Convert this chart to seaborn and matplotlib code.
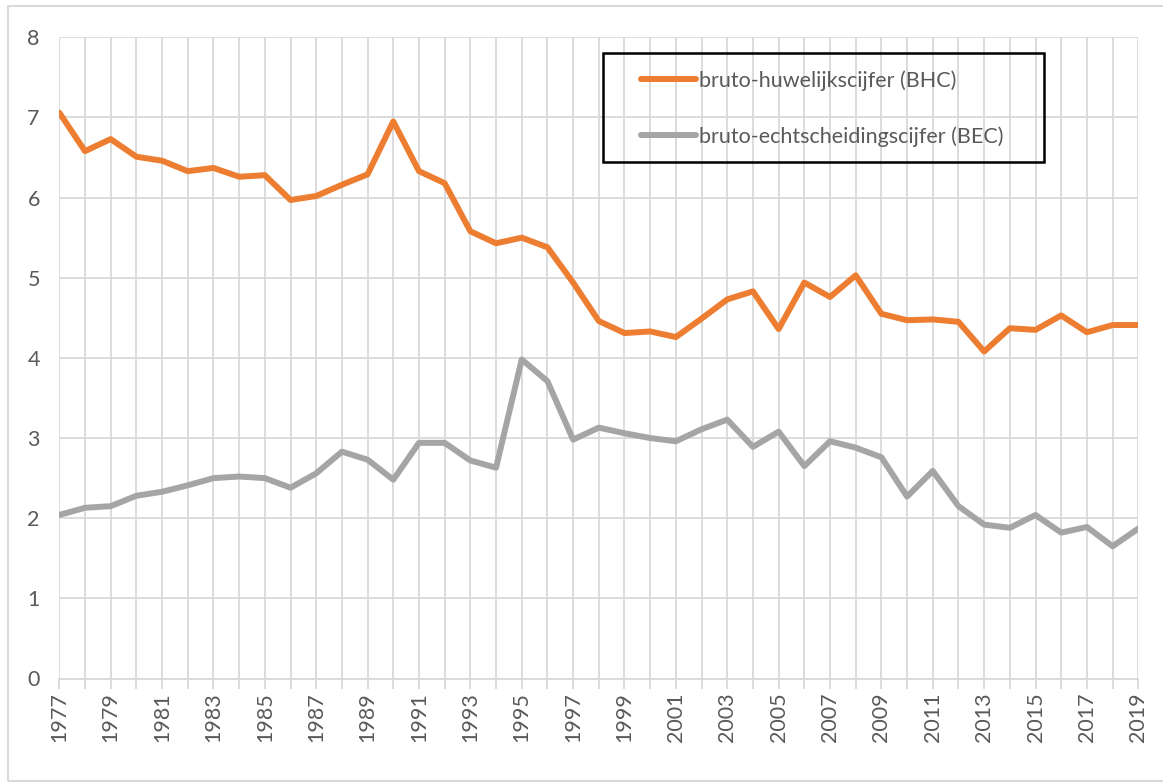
import numpy as np
import pandas as pd
import matplotlib
matplotlib.use("Agg")
import matplotlib.pyplot as plt
import seaborn as sns
from matplotlib.patches import Rectangle

years = list(range(1977, 2020))
bhc = [7.06, 6.58, 6.73, 6.51, 6.46, 6.33, 6.37, 6.26, 6.28, 5.97, 6.02, 6.16, 6.29, 6.95, 6.33,
       6.18, 5.58, 5.43, 5.50, 5.38, 4.94, 4.46, 4.31, 4.33, 4.26, 4.49, 4.73, 4.83,
       4.36, 4.94, 4.76, 5.03, 4.55, 4.47, 4.48, 4.45, 4.08, 4.37, 4.35, 4.53, 4.32, 4.41, 4.41]
bec = [2.04, 2.13, 2.15, 2.28, 2.33, 2.41, 2.50, 2.52, 2.50, 2.38, 2.56, 2.83, 2.73, 2.48, 2.94,
       2.94, 2.72, 2.63, 3.98, 3.71, 2.98, 3.13, 3.06, 3.00, 2.96, 3.11, 3.23, 2.89,
       3.08, 2.65, 2.96, 2.88, 2.76, 2.27, 2.59, 2.15, 1.92, 1.88, 2.04, 1.82, 1.89, 1.65, 1.87]
labels = ["bruto-huwelijkscijfer (BHC)", "bruto-echtscheidingscijfer (BEC)"]
colors = {labels[0]: "#ED7D31", labels[1]: "#A5A5A5"}

df = pd.DataFrame({
    "jaar": years * 2,
    "waarde": bhc + bec,
    "reeks": [labels[0]] * len(years) + [labels[1]] * len(years),
})

sns.set_theme(style="white")
plt.rcParams["font.family"] = ["Lato", "DejaVu Sans"]

W, H = 1163, 783
fig = plt.figure(figsize=(W / 100, H / 100), dpi=100)
ax = fig.add_axes([59.3 / W, 1 - 678.5 / H, (1138.3 - 59.3) / W, (678.5 - 37.3) / H])

grid_col = "#D9D9D9"
text_col = "#595959"

sns.lineplot(data=df, x="jaar", y="waarde", hue="reeks", palette=colors,
             linewidth=4.3, ax=ax, solid_joinstyle="round", solid_capstyle="round")

ax.set_xlim(1977, 2019)
ax.set_ylim(0, 8)
ax.set_xticks(years)
ax.set_xticklabels([str(y) if (y - 1977) % 2 == 0 else "" for y in years], rotation=90)
ax.set_yticks(range(0, 9))
ax.grid(True, color=grid_col, linewidth=1.3)
ax.set_axisbelow(True)
for s in ["top", "right", "left"]:
    ax.spines[s].set_visible(False)
ax.spines["bottom"].set_color(grid_col)
ax.spines["bottom"].set_linewidth(1.3)
ax.tick_params(axis="x", length=7, width=1.3, color=grid_col, labelsize=15.5,
               labelcolor=text_col, pad=3, bottom=True)
ax.tick_params(axis="y", length=0, labelsize=15.5, labelcolor=text_col, pad=14)
ax.set_xlabel("")
ax.set_ylabel("")

handles, labs = ax.get_legend_handles_labels()
ax.legend(handles, labs, loc="center left", frameon=False,
          bbox_to_anchor=(641.0 / W, 1 - 108.5 / H), bbox_transform=fig.transFigure,
          fontsize=15.5, labelcolor=text_col, handlelength=2.55, handletextpad=0.15,
          labelspacing=1.65, borderpad=0, borderaxespad=0)

# legend box and outer chart border
fig.patches.append(Rectangle((602.7 / W, 1 - 161.7 / H), (1044.3 - 602.7) / W, (161.7 - 53.3) / H,
                             transform=fig.transFigure, fill=False, edgecolor="black",
                             linewidth=1.8, zorder=5))
fig.patches.append(Rectangle((8 / W, 1 - 781 / H), 1.2, (781 - 6) / H,
                             transform=fig.transFigure, fill=False, edgecolor=grid_col,
                             linewidth=1.5))

fig.savefig("out.png", dpi=100)
